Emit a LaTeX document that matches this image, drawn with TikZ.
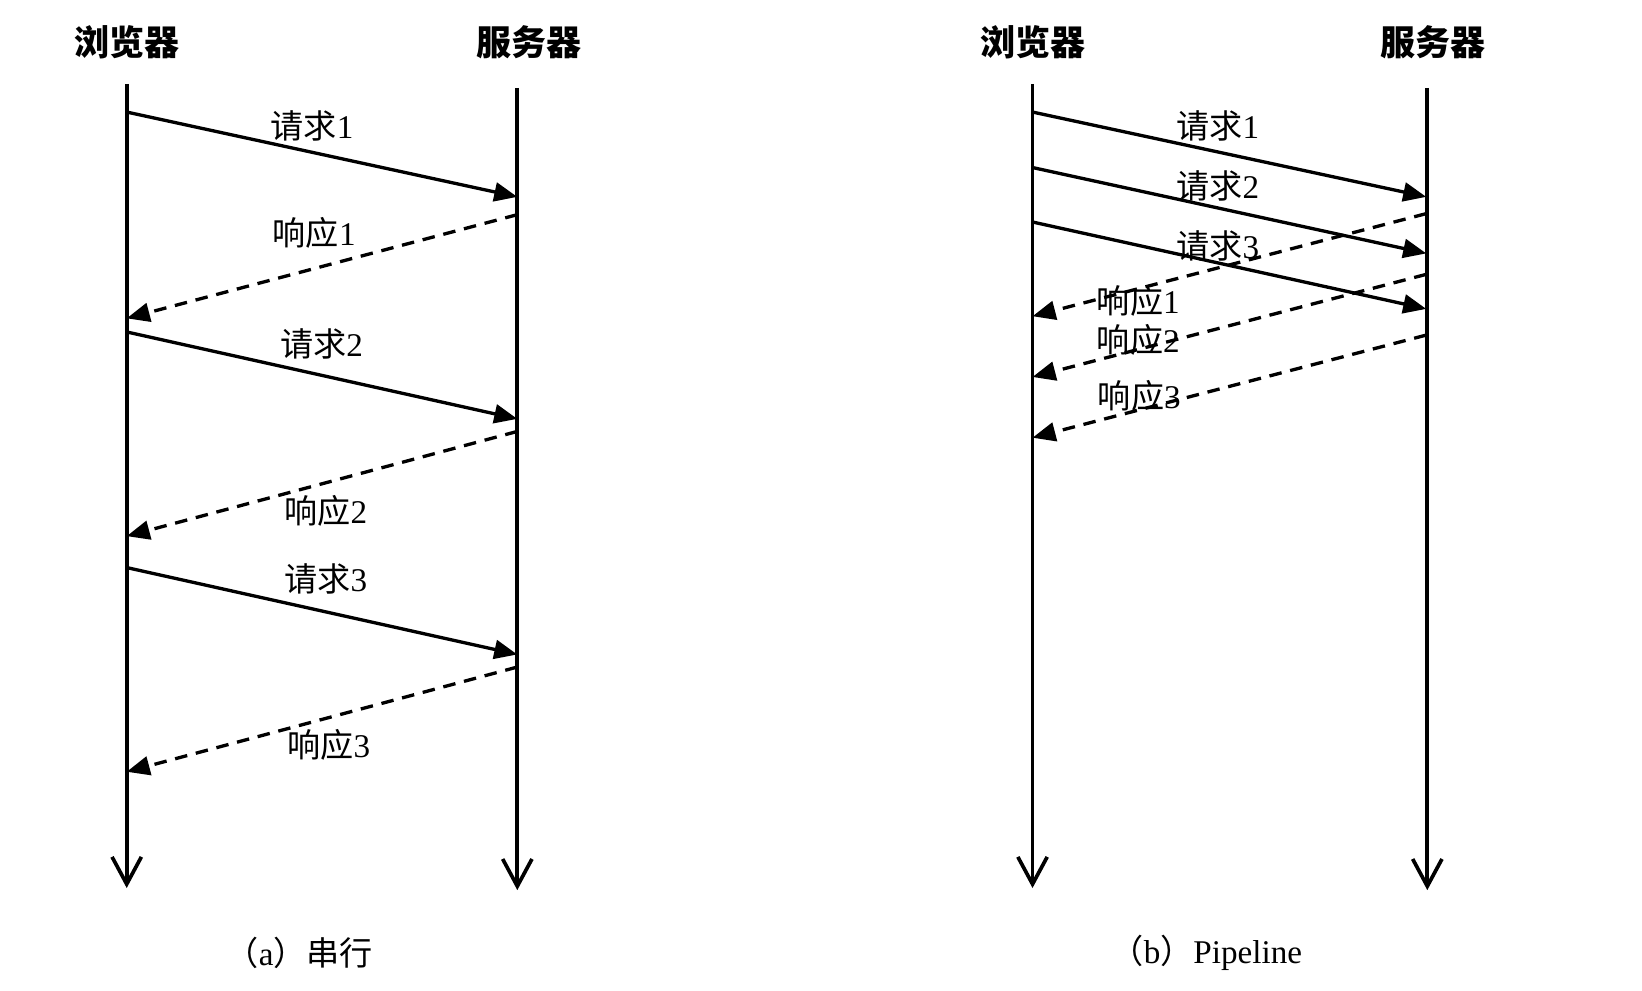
\documentclass[tikz,border=0pt]{standalone}
\usepackage{fontspec}
\setmainfont{Liberation Serif}
\newfontfamily\cjk{Noto Sans CJK SC}
\usetikzlibrary{arrows.meta, positioning}

\begin{document}
\begin{tikzpicture}[
  x=0.01cm, y=-0.01cm,
  life/.style={line width=1pt, -{Straight Barb[length=2.6mm, width=2.8mm, line width=1pt]}},
  req/.style={line width=0.9pt, -{Triangle[length=2.2mm, width=1.8mm]}},
  resp/.style={req, dash pattern=on 3.4pt off 2.4pt},
  head/.style={font=\cjk\bfseries\fontsize{9.5}{11}\selectfont},
  msg/.style={font=\fontsize{9}{11}\selectfont, inner sep=1pt},
  capt/.style={font=\fontsize{9}{11}\selectfont}
]
  \useasboundingbox (0,0) rectangle (1568,946);

  % (a) serial
  \node[head] (lbrowser) at (121,40) {浏览器};
  \node[head] (lserver) at (505,40) {服务器};
  \foreach \n/\x/\y in {lbt/121/80, lbb/121/848, lst/494/84, lsb/494/850,
      lq1a/121/107, lq1b/494/188, lr1a/494/205, lr1b/121/304,
      lq2a/121/317, lq2b/494/400, lr2a/494/412, lr2b/121/512,
      lq3a/121/542, lq3b/494/625, lr3a/494/637, lr3b/121/737}
    \coordinate (\n) at (\x,\y);
  \draw[life] (lbt) -- (lbb);
  \draw[life] (lst) -- (lsb);

  \draw[req] (lq1a) -- (lq1b);
  \draw[resp] (lr1a) -- (lr1b);
  \draw[req] (lq2a) -- (lq2b);
  \draw[resp] (lr2a) -- (lr2b);
  \draw[req] (lq3a) -- (lq3b);
  \draw[resp] (lr3a) -- (lr3b);

  \node[msg] (lq1) at (298,120) {{\cjk 请求}1};
  \node[msg] (lr1) at (300,222) {{\cjk 响应}1};
  \node[msg] (lq2) at (307,328) {{\cjk 请求}2};
  \node[msg] (lr2) at (311,488) {{\cjk 响应}2};
  \node[msg] (lq3) at (311,553) {{\cjk 请求}3};
  \node[msg] (lr3) at (314,711) {{\cjk 响应}3};

  \node[capt] (capa) at (286,910) {{\cjk （}a{\cjk ）串行}};

  % (b) pipeline
  \node[head] (rbrowser) at (986,40) {浏览器};
  \node[head] (rserver) at (1368,40) {服务器};
  \foreach \n/\x/\y in {rbt/986/80, rbb/986/848, rst/1363/84, rsb/1363/850,
      rq1a/986/107, rq1b/1362/188, rq2a/986/160, rq2b/1362/242,
      rq3a/986/212, rq3b/1362/295,
      rr1a/1362/204, rr1b/986/302, rr2a/1362/262, rr2b/986/360,
      rr3a/1362/320, rr3b/986/418}
    \coordinate (\n) at (\x,\y);
  \draw[life] (rbt) -- (rbb);
  \draw[life] (rst) -- (rsb);

  \draw[req] (rq1a) -- (rq1b);
  \draw[req] (rq2a) -- (rq2b);
  \draw[req] (rq3a) -- (rq3b);
  \draw[resp] (rr1a) -- (rr1b);
  \draw[resp] (rr2a) -- (rr2b);
  \draw[resp] (rr3a) -- (rr3b);

  \node[msg] (rq1) at (1163,120) {{\cjk 请求}1};
  \node[msg] (rq2) at (1163,178) {{\cjk 请求}2};
  \node[msg] (rq3) at (1163,235) {{\cjk 请求}3};
  \node[msg] (rr1) at (1087,287) {{\cjk 响应}1};
  \node[msg] (rr2) at (1087,325) {{\cjk 响应}2};
  \node[msg] (rr3) at (1088,378) {{\cjk 响应}3};

  \node[capt] (capb) at (1152,910) {{\cjk （}b{\cjk ）}Pipeline};
\end{tikzpicture}
\end{document}
